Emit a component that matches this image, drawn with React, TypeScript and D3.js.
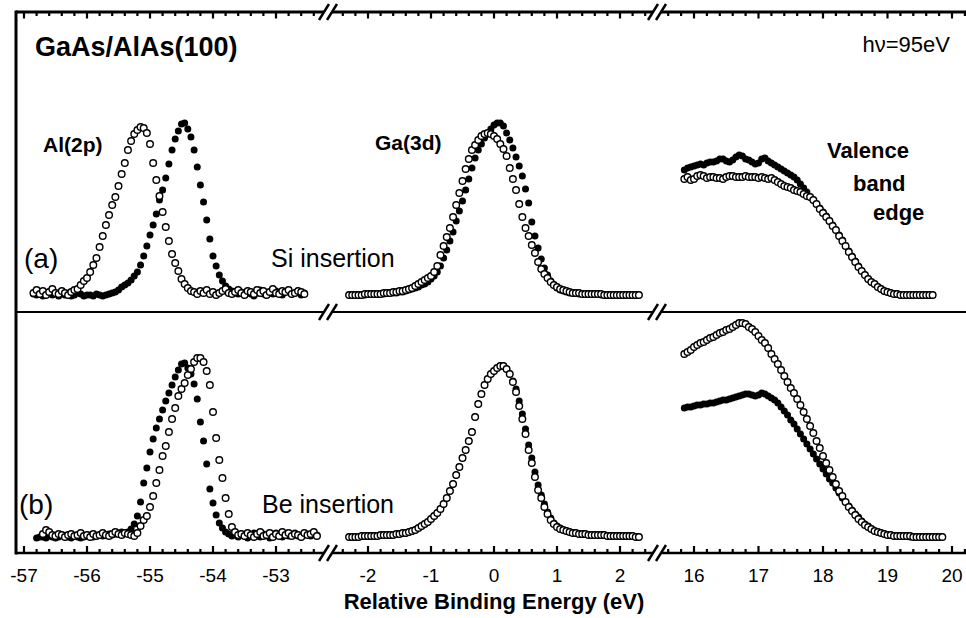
import React from 'react';
import * as d3 from 'd3';

// ---------------- DATA ----------------
// Energy grids (eV): start value and sampling step of each spectrum
const STEP = 0.05;
const AL_A_START = -56.85;
const AL_B_START = -56.8;
const GA_START = -2.3;
const VB_START = 15.85;

// Panel (a): Si insertion — intensities above background (arb. units)
const AL_A_FILLED = [
  2, 1, 3, 0, 2, 4, 1, 2, 0, 3, 1, 2, 0, 1, 3, 2, 0, 1, 1, 0, 2, 1, 0, 1, 2, 3,
  4, 6, 9, 11, 13, 16, 20, 24, 31, 40, 50, 61, 71, 82, 96, 106, 118, 132, 146, 157, 165, 172, 173, 167,
  159, 146, 129, 111, 94, 76, 57, 40, 30, 21, 15, 10, 7, 5, 3,
  2, 4, 1, 5, 2, 0, 3, 6, 2, 1, 4, 2, 5, 3, 1, 4, 6, 2, 3, 5, 1, 3,
];
const AL_A_OPEN = [
  3, 6, 2, 5, 1, 4, 7, 3, 2, 5, 3, 1, 4, 6,
  7, 11, 15, 18, 24, 31, 38, 49, 60, 71, 81, 91, 99, 110, 122, 133, 146, 155, 162, 166, 169, 168, 163, 152,
  133, 116, 100, 84, 69, 55, 42, 33, 25, 17, 12, 8, 5,
  4, 2, 5, 3, 6, 2, 4, 1, 3, 5, 7, 3, 2, 4, 6, 3, 1, 5, 4, 2, 6, 3, 5, 1, 4, 7, 3, 2, 5, 4, 6, 2, 3, 5, 4, 2,
];
const GA_A_OPEN = [
  1, 1, 1, 1, 1, 2, 2, 2, 2, 2, 2, 3, 3, 3, 4, 4, 5, 5, 6, 7, 8, 10,
  12, 14, 16, 18, 20, 24, 30, 41, 50, 59, 68, 79, 91, 103, 115, 127, 137, 146, 151, 156, 160, 162, 163, 162,
  160, 157, 152, 147, 140, 128, 117, 106, 92, 79, 68, 60, 51, 43, 34, 27, 22, 18, 14, 11, 9, 7, 6, 5, 4, 3,
  3, 3, 2, 2, 2, 2, 2, 2, 2, 1, 1, 1, 1, 1, 1, 1, 1, 1, 1, 1, 1,
];
const GA_A_FILLED = [
  1, 1, 1, 1, 1, 1, 2, 2, 2, 2, 2, 2, 3, 3, 3, 3,
  4, 4, 5, 6, 7, 8, 9, 11, 12, 14, 17, 20, 24, 30, 38, 46, 55, 64, 75, 85, 95, 106, 117, 128, 138, 146,
  152, 158, 162, 167, 171, 173, 173, 170, 163, 156, 148, 139, 130, 120, 107, 93, 74, 60, 48, 37, 28, 21,
  15, 11, 8, 6, 5, 4,
  3, 3, 3, 2, 2, 2, 2, 2, 2, 2, 1, 1, 1, 1, 1, 1, 1, 1, 1, 1, 1, 1, 1,
];
const VB_A_FILLED = [
  126, 128, 129, 130, 131, 132, 131, 133, 134, 134, 135, 137, 137, 135, 134, 136, 139, 141, 140, 137,
  136, 134, 132, 133, 137, 138, 135, 133, 131, 129, 127, 125, 123, 121, 119, 116, 112, 108, 104, 99,
  96, 92, 88, 84, 80, 75, 71, 66, 61, 56, 50, 45, 40, 35, 30, 25, 21, 17, 14, 12,
  9, 7, 5, 4, 3, 2, 2, 1, 1, 1, 1, 1, 1, 1, 1, 1, 1, 1,
];
const VB_A_OPEN = [
  117, 119, 116, 117, 120, 121, 120, 118, 119, 119, 118, 118, 117, 119, 120, 120, 119, 119, 119, 120,
  119, 119, 119, 118, 119, 118, 117, 118, 116, 114, 112, 110, 109, 108, 106, 105, 104, 102, 100, 99,
  96, 92, 87, 83, 79, 75, 70, 66, 60, 55, 50, 44, 39, 34, 29, 25, 21, 17, 14, 12,
  9, 7, 5, 4, 3, 2, 2, 1, 1, 1, 1, 1, 1, 1, 1, 1, 1, 1,
];

// Panel (b): Be insertion
const AL_B_FILLED = [
  0, 1, 1, 0, 2, 1, 0, 1, 3, 2, 1, 0, 2, 1, 0, 1, 2, 3, 1, 2, 3, 2, 3, 4, 3, 4, 5, 6, 5,
  6, 9, 14, 22, 36, 55, 70, 86, 99, 110, 119, 128, 137, 145, 153, 161, 168, 174, 175, 170,
  164, 154, 139, 116, 97, 74, 49, 35, 23, 15, 10, 6, 4, 2,
  3, 1, 4, 2, 0, 3, 5, 2, 1, 4, 3, 0, 2, 5, 3, 1, 4, 2, 3, 5, 2, 1, 4, 3, 2, 4, 3,
];
const AL_B_OPEN = [
  null, null, 4, 8, 6, 3, 2, 4, 3, 1, 3, 4, 2, 3, 5, 2, 3, 1, 4, 2, 3, 5, 3, 2, 4, 6, 4, 3, 5, 4, 3, 2, 5,
  12, 18, 22, 31, 42, 55, 68, 82, 92, 106, 119, 130, 142, 149, 155, 163, 169, 176, 180, 180,
  176, 167, 153, 126, 100, 78, 60, 40, 24, 11, 6, 3,
  4, 2, 5, 3, 1, 4, 6, 2, 3, 5, 1, 4, 2, 6, 3, 5, 2, 4, 3, 1, 5, 3, 4, 6, 2,
];
const GA_B_OPEN = [
  1, 1, 1, 1, 2, 2, 2, 2, 2, 2, 3, 3, 3, 3, 3, 4, 4, 5, 5, 6, 7, 8,
  10, 12, 14, 16, 19, 22, 25, 29, 34, 40, 47, 54, 63, 71, 80, 88, 97, 106, 121, 134, 144, 153, 159, 164,
  167, 170, 172, 172, 169, 164, 156, 146, 132, 119, 104, 88, 75, 61, 48, 40, 31, 24, 18, 14, 11, 9, 8, 7, 6, 5,
  5, 4, 4, 4, 3, 3, 3, 3, 3, 3, 2, 2, 2, 2, 2, 2, 2, 2, 2, 1, 1,
];
const GA_B_FILLED = [
  1, 1, 1, 1, 2, 2, 2, 2, 2, 2, 3, 3, 3, 3, 3, 4, 4, 5, 5, 6, 7, 8,
  10, 12, 14, 16, 19, 22, 25, 29, 34, 40, 47, 54, 63, 71, 80, 88, 97, 106, 121, 134, 144, 153, 159, 164,
  167, 170, 172, 172, 169, 164, 157,
  149, 137, 124, 109, 93, 80, 66, 53, 43, 34, 26, 20, 15, 12,
  10, 8, 7, 6, 5,
  5, 4, 4, 4, 3, 3, 3, 3, 3, 3, 2, 2, 2, 2, 2, 2, 2, 2, 2, 1, 1,
];
const VB_B_OPEN = [
  184, 186, 188, 191, 193, 195, 196, 198, 200, 201, 203, 205, 206, 208, 209, 211, 213, 215, 215, 214,
  211, 209, 206, 202, 198, 195, 190, 184, 179, 174, 168, 162, 156, 150, 145, 139, 133, 126, 119, 112,
  105, 97, 90, 82, 75, 68, 61, 54, 47, 42, 36, 31, 27, 23, 19, 16, 13, 11, 9, 7,
  6, 5, 4, 3, 3, 2, 2, 2, 2, 2, 2, 1, 1, 1, 1, 1, 1, 1, 1, 1, 1,
];
const VB_B_FILLED = [
  130, 131, 131, 132, 133, 133, 134, 134, 135, 135, 136, 137, 138, 138, 139, 140, 141, 142, 143, 144,
  144, 143, 142, 143, 145, 144, 142, 140, 138, 135, 131, 127, 123, 118, 114, 109, 104, 99, 94, 89,
  84, 79, 74, 69, 64, 59, 55, 50, 45, 40, 36, 32, 28, 24, 21, 17, 14, 12, 9, 7,
  6, 5, 4, 3, 3, 2, 2, 2, 2, 2, 1, 1, 1, 1, 1, 1, 1, 1, 1, 1, 1,
];

// Tick labels per axis segment
const TICKS_AL = [-57, -56, -55, -54, -53];
const TICKS_GA = [-2, -1, 0, 1, 2];
const TICKS_VB = [16, 17, 18, 19, 20];

// ---------------- LAYOUT ----------------
const W = 966;
const H = 618;
const LEFT = 16;
const RIGHT = 966;
const TOP = 12;
const MID = 312;
const BOT = 553;
const BREAKS = [328, 657];
const FONT = '"Liberation Sans", Arial, Helvetica, sans-serif';

const SEGS = [
  { dom: [-57, -53], rng: [24, 276], lo: LEFT, hi: BREAKS[0] - 4, t0: -57, t1: -52.4, labels: TICKS_AL },
  { dom: [-2, 2], rng: [368, 620], lo: BREAKS[0] + 4, hi: BREAKS[1] - 4, t0: -2.4, t1: 2.4, labels: TICKS_GA },
  { dom: [16, 20], rng: [694, 952], lo: BREAKS[1] + 4, hi: RIGHT, t0: 15.6, t1: 20.2, labels: TICKS_VB },
];

type Pt = { e: number; v: number };
function toSeries(start: number, vals: (number | null)[]): Pt[] {
  const out: Pt[] = [];
  vals.forEach((v, i) => {
    if (v !== null && v !== undefined) out.push({ e: start + i * STEP, v });
  });
  return out;
}

export default function App() {
  const xs = SEGS.map((s) => d3.scaleLinear().domain(s.dom).range(s.rng));
  const yA = d3.scaleLinear().domain([0, 100]).range([296, 196]);
  const yB = d3.scaleLinear().domain([0, 100]).range([538, 438]);

  const spectra = [
    { seg: 0, y: yA, filled: true, d: toSeries(AL_A_START, AL_A_FILLED) },
    { seg: 0, y: yA, filled: false, d: toSeries(AL_A_START, AL_A_OPEN) },
    { seg: 1, y: yA, filled: true, d: toSeries(GA_START, GA_A_FILLED) },
    { seg: 1, y: yA, filled: false, d: toSeries(GA_START, GA_A_OPEN) },
    { seg: 2, y: yA, filled: true, d: toSeries(VB_START, VB_A_FILLED) },
    { seg: 2, y: yA, filled: false, d: toSeries(VB_START, VB_A_OPEN) },
    { seg: 0, y: yB, filled: true, d: toSeries(AL_B_START, AL_B_FILLED) },
    { seg: 0, y: yB, filled: false, d: toSeries(AL_B_START, AL_B_OPEN) },
    { seg: 1, y: yB, filled: true, d: toSeries(GA_START, GA_B_FILLED) },
    { seg: 1, y: yB, filled: false, d: toSeries(GA_START, GA_B_OPEN) },
    { seg: 2, y: yB, filled: true, d: toSeries(VB_START, VB_B_FILLED) },
    { seg: 2, y: yB, filled: false, d: toSeries(VB_START, VB_B_OPEN) },
  ];

  const tickEls: React.ReactNode[] = [];
  SEGS.forEach((s, si) => {
    const k0 = Math.round(s.t0 * 5);
    const k1 = Math.round(s.t1 * 5);
    d3.range(k0, k1 + 1).forEach((k) => {
      const x = xs[si](k / 5);
      const major = k % 5 === 0;
      tickEls.push(
        <line key={`t${si}_${k}`} x1={x} x2={x} y1={TOP} y2={TOP + (major ? 6.5 : 4)} stroke="#000" strokeWidth={2.2} />
      );
      tickEls.push(
        <line key={`b${si}_${k}`} x1={x} x2={x} y1={BOT} y2={BOT - (major ? 7 : 4)} stroke="#000" strokeWidth={2.2} />
      );
    });
  });

  const hLines = [
    { y: TOP, w: 3 },
    { y: MID, w: 2 },
    { y: BOT, w: 2.5 },
  ];

  const breakMarks: React.ReactNode[] = [];
  hLines.forEach((h, hi) =>
    BREAKS.forEach((bx, bi) =>
      [-4, 4].forEach((off, oi) =>
        breakMarks.push(
          <line
            key={`br${hi}_${bi}_${oi}`}
            x1={bx + off - 5}
            y1={h.y + 8}
            x2={bx + off + 5}
            y2={h.y - 8}
            stroke="#000"
            strokeWidth={2.5}
          />
        )
      )
    )
  );

  return (
    <svg
      width={W}
      height={H}
      viewBox={`0 0 ${W} ${H}`}
      style={{ position: 'absolute', left: 0, top: 0, display: 'block', background: '#fff' }}
      fontFamily={FONT}
    >
      <rect x={0} y={0} width={W} height={H} fill="#fff" />

      {/* spectra */}
      {spectra.map((sp, si) => (
        <g key={`sp${si}`}>
          {sp.d.map((p, i) =>
            sp.filled ? (
              <circle key={i} cx={xs[sp.seg](p.e)} cy={sp.y(p.v)} r={3.5} fill="#000" />
            ) : (
              <circle key={i} cx={xs[sp.seg](p.e)} cy={sp.y(p.v)} r={3.3} fill="#fff" stroke="#000" strokeWidth={1.4} />
            )
          )}
        </g>
      ))}

      {/* frame */}
      <line x1={LEFT} x2={LEFT} y1={TOP - 1.5} y2={BOT + 1.5} stroke="#000" strokeWidth={3} />
      {hLines.map((h, hi) =>
        SEGS.map((s, si) => (
          <line key={`h${hi}_${si}`} x1={s.lo} x2={s.hi} y1={h.y} y2={h.y} stroke="#000" strokeWidth={h.w} />
        ))
      )}
      {breakMarks}
      {tickEls}

      {/* tick labels */}
      {SEGS.map((s, si) =>
        s.labels.map((v) => (
          <text key={`l${si}_${v}`} x={xs[si](v)} y={582} fontSize={19} textAnchor="middle" fill="#000">
            {v}
          </text>
        ))
      )}
      <text x={xs[1](0)} y={609} fontSize={22} fontWeight="bold" textAnchor="middle">
        Relative Binding Energy (eV)
      </text>

      {/* annotations */}
      <text x={35} y={56} fontSize={27} fontWeight="bold">GaAs/AlAs(100)</text>
      <text x={950} y={52} fontSize={22} textAnchor="end">hν=95eV</text>
      <text x={43} y={152} fontSize={21} fontWeight="bold">Al(2p)</text>
      <text x={375} y={150} fontSize={21} fontWeight="bold">Ga(3d)</text>
      <text x={827} y={158} fontSize={22} fontWeight="bold">Valence</text>
      <text x={853} y={191} fontSize={22} fontWeight="bold">band</text>
      <text x={873} y={220} fontSize={22} fontWeight="bold">edge</text>
      <text x={24} y={268} fontSize={28}>(a)</text>
      <text x={271} y={267} fontSize={25}>Si insertion</text>
      <text x={19} y={514} fontSize={28}>(b)</text>
      <text x={262} y={513} fontSize={25}>Be insertion</text>
    </svg>
  );
}
